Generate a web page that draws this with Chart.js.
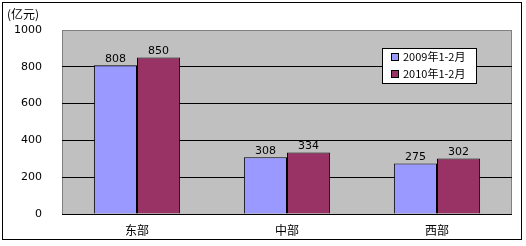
<!DOCTYPE html>
<html>
<head>
<meta charset="utf-8">
<script src="https://cdn.jsdelivr.net/npm/chart.js@4"></script>
<style>
  html, body { margin: 0; padding: 0; background: #ffffff; }
  #wrap { width: 526px; height: 246px; position: relative; }
</style>
</head>
<body>
<div id="wrap"><canvas id="chart" width="526" height="246"></canvas></div>
<script>
const categories = ["东部", "中部", "西部"];
const series2009 = [808, 308, 275];
const series2010 = [850, 334, 302];
const seriesNames = ["2009年1-2月", "2010年1-2月"];
const yTicks = [0, 200, 400, 600, 800, 1000];
const unitLabel = "(亿元)";

const COLORS = ["#9999ff", "#993366"];
const NUM_FONT = "11px 'DejaVu Sans', sans-serif";
const CJK_FONT = "12px 'Noto Sans CJK SC', sans-serif";

// frame, grey plot background, legend, value labels
const decorations = {
  id: "decorations",
  beforeDraw(chart) {
    const { ctx, chartArea: a } = chart;
    ctx.save();
    ctx.fillStyle = "#ffffff";
    ctx.fillRect(0, 0, chart.width, chart.height);
    ctx.strokeStyle = "#000000";
    ctx.lineWidth = 1;
    ctx.strokeRect(2.5, 2.5, 519, 237);
    ctx.fillStyle = "#c0c0c0";
    ctx.fillRect(a.left, a.top, a.right - a.left, a.bottom - a.top);
    ctx.strokeStyle = "#808080";
    ctx.strokeRect(a.left + 0.5, a.top + 0.5, a.right - a.left - 1, a.bottom - a.top);
    ctx.restore();
  },
  afterDraw(chart) {
    const { ctx } = chart;
    ctx.save();
    // unit label
    ctx.fillStyle = "#000000";
    ctx.font = CJK_FONT;
    ctx.textBaseline = "middle";
    ctx.textAlign = "left";
    ctx.fillText(unitLabel, 7, 14);

    // value labels
    ctx.font = NUM_FONT;
    ctx.textAlign = "center";
    ctx.textBaseline = "bottom";
    chart.data.datasets.forEach((ds, i) => {
      chart.getDatasetMeta(i).data.forEach((bar, j) => {
        ctx.fillText(String(ds.data[j]), bar.x, bar.y - 1);
      });
    });

    // legend
    const lx = 382, ly = 48, lw = 94, lh = 35;
    ctx.fillStyle = "#ffffff";
    ctx.fillRect(lx, ly, lw, lh);
    ctx.strokeStyle = "#000000";
    ctx.strokeRect(lx + 0.5, ly + 0.5, lw, lh);
    seriesNames.forEach((name, i) => {
      const cy = ly + 9 + i * 17;
      ctx.fillStyle = COLORS[i];
      ctx.fillRect(lx + 9.5, cy - 3.5, 7, 7);
      ctx.strokeStyle = "#000000";
      ctx.strokeRect(lx + 9.5, cy - 3.5, 7, 7);
      ctx.fillStyle = "#000000";
      ctx.font = "11px 'Noto Sans CJK SC', sans-serif";
      ctx.textAlign = "left";
      ctx.textBaseline = "middle";
      ctx.fillText(name, lx + 21, cy);
    });
    ctx.restore();
  }
};

new Chart(document.getElementById("chart"), {
  type: "bar",
  data: {
    labels: categories,
    datasets: [
      {
        label: seriesNames[0],
        data: series2009,
        backgroundColor: COLORS[0],
        borderColor: "#000000",
        borderWidth: 1,
        barPercentage: 1,
        categoryPercentage: 0.575
      },
      {
        label: seriesNames[1],
        data: series2010,
        backgroundColor: COLORS[1],
        borderColor: "#000000",
        borderWidth: 1,
        barPercentage: 1,
        categoryPercentage: 0.575
      }
    ]
  },
  options: {
    responsive: false,
    animation: false,
    layout: { padding: { left: 0, right: 14, top: 30, bottom: 0 } },
    plugins: {
      legend: { display: false },
      tooltip: { enabled: false }
    },
    scales: {
      x: {
        grid: { display: false, drawTicks: false },
        border: { display: false },
        ticks: {
          color: "#000000",
          font: { family: "'Noto Sans CJK SC', sans-serif", size: 12 },
          padding: 9
        },
        afterFit: (scale) => { scale.height = 32; }
      },
      y: {
        min: 0,
        max: 1000,
        afterBuildTicks: (scale) => { scale.ticks = yTicks.map(v => ({ value: v })); },
        grid: {
          drawTicks: false,
          color: (c) => (c.tick && c.tick.value === 1000 ? "rgba(0,0,0,0)" : "#000000"),
          lineWidth: 1
        },
        border: { display: false },
        ticks: {
          color: "#000000",
          font: { family: "'DejaVu Sans', sans-serif", size: 11 },
          padding: 20,
          callback: (value) => String(value)
        },
        afterFit: (scale) => { scale.width = 62; }
      }
    }
  },
  plugins: [decorations]
});
</script>
</body>
</html>
